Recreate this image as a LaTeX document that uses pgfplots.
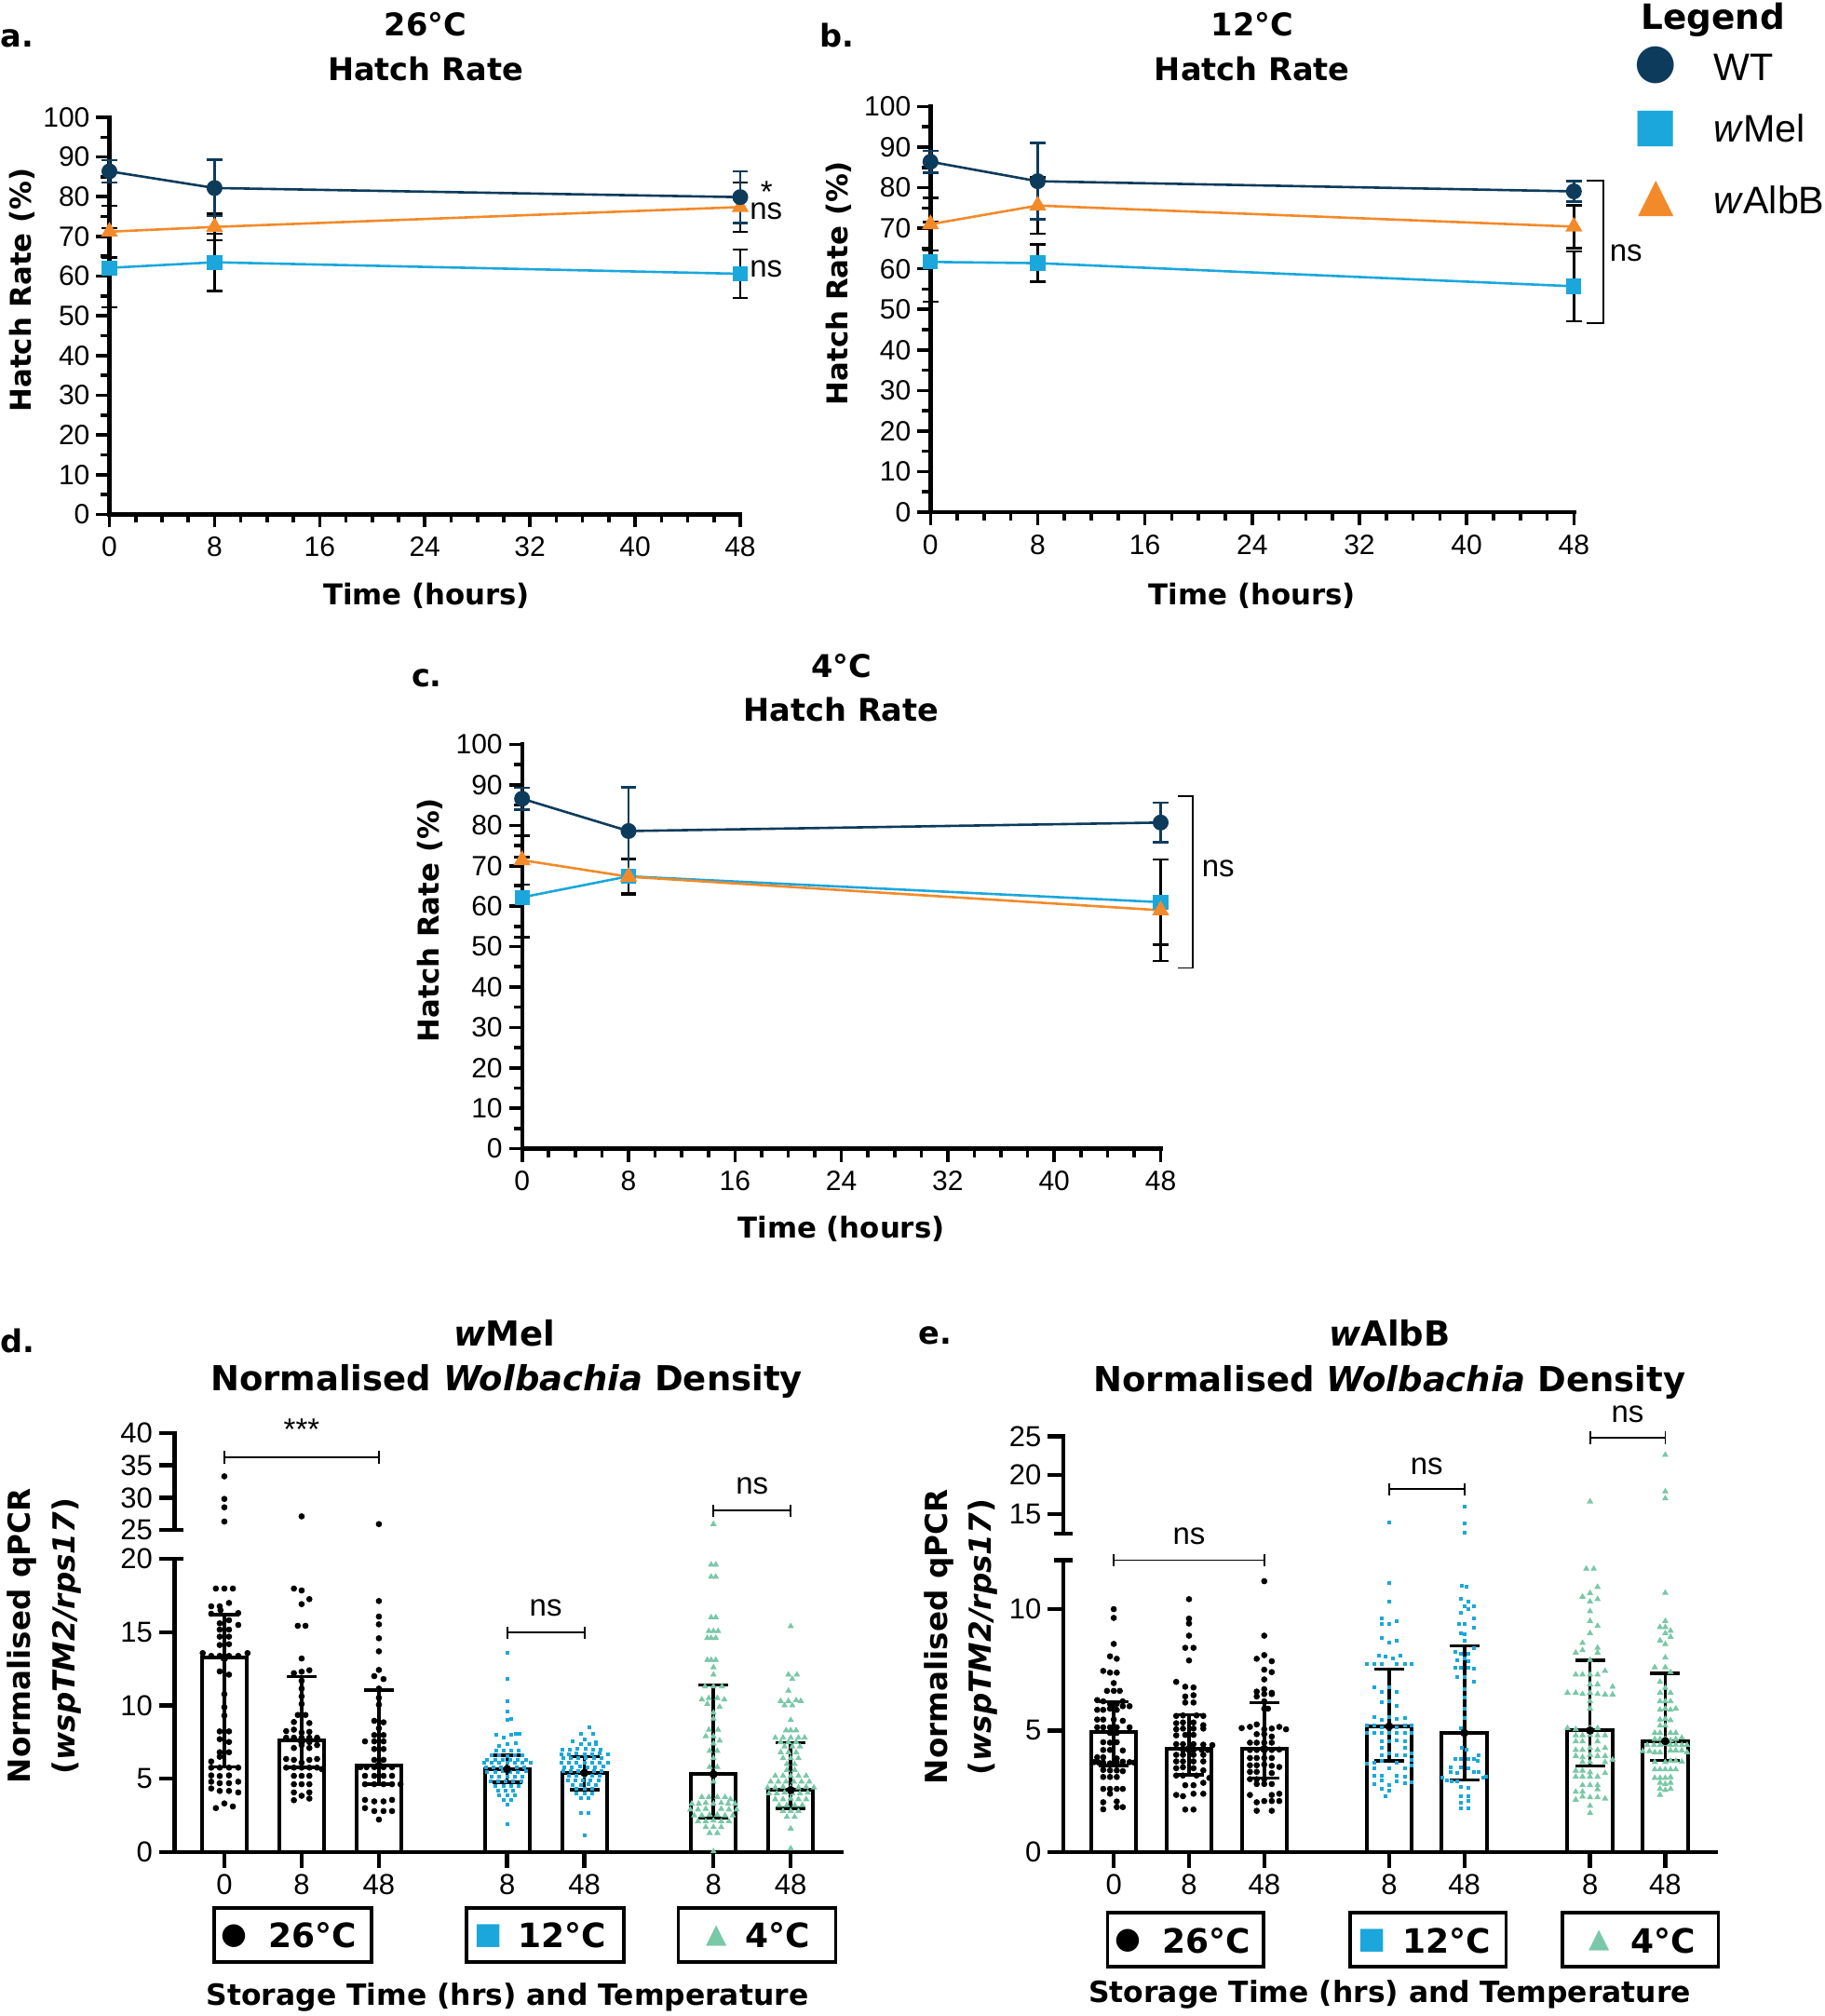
\documentclass[border=0pt]{standalone}
\usepackage{fontspec}
\setmainfont{Liberation Sans}
\newfontfamily\dvs{DejaVu Sans}
\usepackage{pgfplots}
\usepackage{pgfplotstable}
\pgfplotsset{compat=1.18}
\definecolor{navy}{HTML}{0D3B5C}
\definecolor{cyanb}{HTML}{1BA7DC}
\definecolor{orng}{HTML}{F28A2A}
\definecolor{mint}{HTML}{79C8A7}

\newcommand{\ttl}{\dvs\bfseries\fontsize{16.8}{18}\selectfont}
\newcommand{\lbl}{\dvs\bfseries\fontsize{15.4}{18}\selectfont}
\newcommand{\ttlB}{\dvs\bfseries\fontsize{18.5}{20}\selectfont}
\newcommand{\lblB}{\dvs\bfseries\fontsize{15.7}{18}\selectfont}
\newcommand{\nsf}{\fontsize{16.5}{16.5}\selectfont}

\tikzset{brk/.style={line width=0.9pt, black}}
\pgfplotsset{
  topax/.style={anchor=south west, scale only axis, axis lines=left,
    axis line style={line width=2.2pt,-,line cap=rect},
    xmin=0,xmax=48,ymin=0,ymax=100,
    xtick={0,8,...,48}, minor x tick num=3,
    ytick={0,10,...,100}, minor y tick num=1,
    tick align=outside, major tick length=7pt, minor tick length=4.5pt,
    major tick style={line width=1.8pt,black}, minor tick style={line width=1.8pt,black},
    tick label style={font=\fontsize{15}{15}\selectfont},
    xticklabel style={yshift=-1.5pt},
    /pgf/number format/assume math mode=true, clip=false},
  wt/.style={navy, line width=1.3pt, mark=*, mark size=3.6pt,
    error bars/.cd, y dir=both, y explicit,
    error bar style={navy,line width=1.2pt},
    error mark options={rotate=90,navy,line width=1.2pt,mark size=4.2pt}},
  wmel/.style={cyanb, line width=1.3pt, mark=square*, mark size=3.4pt,
    error bars/.cd, y dir=both, y explicit,
    error bar style={black,line width=1.2pt},
    error mark options={rotate=90,black,line width=1.2pt,mark size=4.2pt}},
  walb/.style={orng, line width=1.3pt, mark=triangle*, mark size=4pt,
    error bars/.cd, y dir=both, y explicit,
    error bar style={black,line width=1.2pt},
    error mark options={rotate=90,black,line width=1.2pt,mark size=4.2pt}},
  botax/.style={anchor=south west, scale only axis, clip=false,
    axis x line=bottom, axis y line=left, axis line style={line width=2.2pt,-,line cap=rect},
    tick align=outside, major tick length=8.3pt, major tick style={line width=2.2pt,black},
    tick label style={font=\fontsize{15.5}{15.5}\selectfont},
    /pgf/number format/assume math mode=true,
    xtick={0,1,2,3.66,4.66,6.33,7.33}, xticklabels={0,8,48,8,48,8,48}},
  upax/.style={anchor=south west, scale only axis, clip=false,
    axis x line=none, axis y line=left, axis line style={line width=2.2pt,-,line cap=rect},
    tick align=outside, major tick length=8.3pt, major tick style={line width=2.2pt,black},
    tick label style={font=\fontsize{15.5}{15.5}\selectfont},
    /pgf/number format/assume math mode=true, xtick=\empty},
  bars/.style={ybar, bar width=#1, bar shift=0pt, fill=white, draw=black, line width=2pt, forget plot},
  errs/.style={forget plot, only marks, mark=none, black,
    error bars/.cd, y dir=both, y explicit,
    error bar style={draw=black,line width=1.8pt},
    error mark options={rotate=90,draw=black,line width=1.8pt,mark size=8pt}},
  dots/.style={forget plot, only marks, mark=*, mark size=1.45pt, black},
  sqs/.style={forget plot, only marks, mark=square*, mark size=0.75pt, cyanb, mark options={draw=none,fill=cyanb}},
  tris/.style={forget plot, only marks, mark=triangle*, mark size=1.6pt, mint, mark options={draw=none,fill=mint}}
}

% ---------- hatch rate data ----------
\pgfplotstableread{
t v e
0 86.4 2.8
8 82.2 7.1
48 79.9 6.5
}\aWT
\pgfplotstableread{
t v e
0 71.2 6.5
8 72.4 3.3
48 77.4 6.2
}\aAlb
\pgfplotstableread{
t v e
0 62.1 10.0
8 63.5 7.2
48 60.6 6.1
}\aMel
\pgfplotstableread{
t v e
0 86.4 2.7
8 81.6 9.4
48 79.1 2.5
}\bWT
\pgfplotstableread{
t v e
0 71.0 6.5
8 75.6 6.9
48 70.4 5.3
}\bAlb
\pgfplotstableread{
t v e
0 61.7 9.8
8 61.4 4.6
48 55.7 8.6
}\bMel
\pgfplotstableread{
t v e
0 86.6 2.7
8 78.6 10.8
48 80.7 4.9
}\cWT
\pgfplotstableread{
t v e
0 71.4 6.0
8 67.3 4.4
48 59.0 12.5
}\cAlb
\pgfplotstableread{
t v e
0 62.2 9.9
8 67.4 4.2
48 61.0 10.5
}\cMel

% ---------- qPCR summary ----------
\pgfplotstableread{
x y ep em
0 13.25 2.95 7.45
1 7.6 4.36 1.84
2 5.9 5.13 1.27
3.66 5.65 0.95 0.89
4.66 5.4 1.1 1.13
6.33 5.31 6.09 2.98
7.33 4.23 3.22 1.23
}\dErr
\pgfplotstableread{
x y ep em
0 4.95 1.23 1.39
1 4.24 1.41 1.06
2 4.24 1.91 1.19
3.66 5.17 2.35 1.42
4.66 4.9 3.58 1.93
6.33 5.0 2.88 1.46
7.33 4.56 2.79 0.79
}\eErr

% ---------- d points ----------
\pgfplotstableread{
o v
-0.11 17.97
0 17.97
0.11 17.97
0.06 16.99
-0.17 16.76
-0.06 16.76
-0.17 16.25
0.18 16.3
-0.05 16.5
-0.06 15.6
0.06 15.81
0.18 15.49
-0.06 15.17
0.06 15.17
-0.06 14.69
0.06 14.69
-0.06 14.12
0.06 14.18
-0.28 13.57
-0.17 13.38
-0.06 13.38
0.06 13.38
0.18 13.38
0.30 13.57
-0.06 12.32
0.06 12.1
0 10.77
0 9.88
0 9.31
-0.06 8.23
0.06 8.23
-0.06 7.70
0.06 7.51
-0.06 6.81
0.06 6.81
-0.17 6.18
-0.06 6.5
-0.17 5.76
-0.06 5.76
0.06 5.76
0.18 5.76
-0.17 5.23
-0.06 5.19
0.06 5.23
-0.17 4.80
-0.06 4.7
0.06 4.7
0.18 4.8
-0.17 4.34
-0.06 4.17
0.06 4.17
0.18 4.07
-0.11 3.0
0 3.32
0.11 3.11
}\dTa
\pgfplotstableread{
o v
-0.1 17.97
0 17.84
0.1 17.25
0 16.91
-0.05 15.43
0.05 15.43
0 13.2
-0.1 12.2
0 12.3
0.1 12.4
0 11.68
0 11.15
0 10.62
0 10.1
-0.05 9.35
0.05 9.35
-0.1 8.87
0.1 8.8
-0.2 8.25
-0.1 8.35
0 8.15
0.1 8.2
-0.2 7.8
-0.1 7.8
0 7.8
0.1 7.8
0.2 7.8
0.1 7.5
-0.1 7.1
0 7.3
0.1 7.1
0.2 7.3
-0.2 6.35
-0.1 6.29
0 6.1
0.1 6.29
0.2 6.35
-0.2 5.76
-0.1 5.76
0 5.76
0.1 5.76
0.2 5.76
0.26 5.66
-0.1 5.2
0 5.2
0.1 5.2
-0.1 4.63
0 4.63
0.1 4.63
-0.1 4.07
0.1 4.07
-0.1 3.54
0 3.84
0.1 3.65
}\dTb
\pgfplotstableread{
o v
0 17.12
0 16.06
0 15.53
0 14.58
0 13.69
0 12.42
-0.06 12.0
0.06 11.8
0 11.15
0 10.52
0 10.05
-0.06 8.95
0.06 8.85
0 8.44
-0.06 7.98
0.06 7.98
-0.18 7.55
-0.06 7.55
0.06 7.55
-0.06 7.03
0.06 7.03
-0.06 6.29
0.06 6.29
-0.24 5.79
-0.16 5.79
-0.06 5.79
0.06 5.79
0.17 5.79
-0.18 5.2
-0.06 5.2
0.06 5.2
0.17 5.2
-0.18 4.63
-0.06 4.63
0.06 4.63
0.17 4.63
0.28 4.63
-0.18 3.56
-0.06 3.46
0.06 3.46
0.17 3.56
-0.18 3.0
-0.06 2.8
0.06 2.8
0.17 2.8
0 2.22
}\dTc
\pgfplotstableread{
o v
0 13.6
0 11.82
0 10.3
0 9.6
0 9.0
0.05 9.1
-0.14 8.0
-0.04 7.8
0.05 8.0
0.11 8.05
0.16 8.1
-0.1 7.24
0 7.38
0.11 7.43
-0.14 6.9
-0.05 6.9
0.05 6.95
0.15 6.9
-0.2 6.6
-0.1 6.6
0 6.55
0.1 6.6
0.2 6.6
-0.26 6.29
-0.16 6.29
-0.06 6.3
0.04 6.29
0.14 6.3
0.24 6.29
-0.3 6.08
-0.2 6.08
-0.1 6.1
0 6.08
0.1 6.08
0.2 6.1
0.3 6.08
-0.28 5.78
-0.18 5.78
-0.08 5.8
0.02 5.78
0.12 5.78
0.22 5.8
-0.26 5.46
-0.16 5.46
-0.06 5.5
0.04 5.46
0.14 5.46
0.24 5.5
-0.2 5.14
-0.1 5.14
0 5.16
0.1 5.14
0.2 5.14
-0.22 4.83
-0.12 4.83
-0.02 4.85
0.08 4.83
0.18 4.83
-0.15 4.51
-0.05 4.51
0.05 4.53
0.15 4.51
-0.12 4.19
-0.02 4.19
0.08 4.19
-0.1 3.9
0 3.85
0.1 3.9
-0.05 3.57
0.05 3.57
0 3.27
0 1.9
}\dMa
\pgfplotstableread{
o v
0.06 8.5
-0.05 8.1
0.11 8.05
0 7.7
0.15 7.5
-0.15 7.55
-0.05 7.4
0.06 7.4
0.15 7.35
-0.29 7.0
-0.19 7.0
-0.09 7.05
0.01 7.05
0.11 7.0
0.21 7.0
-0.3 6.7
-0.2 6.7
-0.1 6.72
0 6.7
0.1 6.7
0.2 6.72
0.3 6.7
-0.28 6.4
-0.18 6.4
-0.08 6.42
0.02 6.4
0.12 6.4
0.22 6.42
-0.3 6.1
-0.2 6.1
-0.1 6.12
0 6.1
0.1 6.1
0.2 6.12
0.3 6.1
-0.26 5.8
-0.16 5.8
-0.06 5.82
0.04 5.8
0.14 5.8
0.24 5.82
-0.28 5.5
-0.18 5.5
-0.08 5.52
0.02 5.5
0.12 5.5
0.22 5.52
-0.2 5.2
-0.1 5.2
0 5.22
0.1 5.2
0.2 5.2
-0.22 4.9
-0.12 4.9
-0.02 4.92
0.08 4.9
0.18 4.9
-0.15 4.6
-0.05 4.6
0.05 4.62
0.15 4.6
-0.1 4.3
0 4.3
0.1 4.3
-0.1 4.0
0 4.0
0.1 4.0
-0.05 3.7
0.05 3.7
-0.05 2.67
0.05 2.67
0 1.16
}\dMb
\pgfplotstableread{
o v
-0.03 19.6
0.03 19.6
-0.03 18.77
0.03 18.77
-0.03 16.0
0.03 16.0
-0.06 15.07
0 15.07
0.06 15.07
-0.08 14.6
-0.03 14.6
0.03 14.6
-0.08 13.1
-0.03 13.1
0.03 13.1
0 12.6
0 12.1
-0.11 11.3
0 11.3
0.11 11.3
-0.15 10.4
-0.06 10.5
0.05 10.5
0.14 10.4
-0.08 10.1
0.08 9.9
0 9.5
0 9.1
-0.06 8.34
0.06 8.34
-0.1 7.9
0 7.9
0.08 7.6
0 7.4
-0.05 6.9
0.05 6.9
0 6.4
-0.05 5.8
0.05 5.8
0 5.3
0 4.8
-0.15 3.75
-0.06 3.75
0.05 3.75
0.15 3.75
0.22 3.6
-0.28 3.3
-0.19 3.3
-0.1 3.35
0 3.3
0.1 3.35
0.19 3.3
0.28 3.3
-0.3 2.9
-0.2 2.9
-0.1 2.95
0.1 2.95
0.2 2.9
0.3 2.9
-0.25 2.5
-0.15 2.5
-0.05 2.55
0.05 2.55
0.15 2.5
0.25 2.5
-0.2 2.1
-0.1 2.1
0 2.15
0.1 2.1
0.2 2.1
-0.1 1.7
0 1.7
0.1 1.7
-0.05 1.3
0.05 1.3
0 0.05
}\dFa
\pgfplotstableread{
o v
0 15.4
-0.03 12.1
0.08 12.1
0.02 11.8
-0.03 11.0
-0.13 10.3
-0.03 10.3
0.07 10.35
0.13 10.3
-0.08 10.0
0.02 10.0
0 9.0
-0.06 8.3
0 8.3
0.07 8.3
-0.2 7.8
-0.1 7.8
0 7.8
0.1 7.8
0.18 7.8
-0.13 7.5
-0.03 7.5
0.07 7.5
-0.08 7.2
0.02 7.2
0.12 7.2
-0.13 6.8
-0.03 6.8
0.07 6.8
-0.1 6.4
0 6.4
0.1 6.4
-0.05 6.0
0.05 6.0
-0.05 5.6
0.05 5.6
-0.2 5.2
-0.1 5.2
0 5.2
0.1 5.2
0.2 5.2
-0.26 4.8
-0.16 4.8
-0.06 4.8
0.04 4.8
0.14 4.8
0.24 4.8
-0.3 4.4
-0.2 4.4
-0.1 4.45
0 4.4
0.1 4.4
0.2 4.45
0.3 4.4
-0.28 4.0
-0.18 4.0
-0.08 4.05
0.02 4.0
0.12 4.0
0.22 4.05
-0.2 3.6
-0.1 3.6
0 3.65
0.1 3.6
0.2 3.6
-0.15 3.2
-0.05 3.2
0.05 3.2
0.15 3.2
-0.1 2.8
0 2.8
0.1 2.8
-0.05 2.4
0.05 2.4
0 1.6
0 0.25
}\dFb

% ---------- e points ----------
\pgfplotstableread{
o v
0 9.99
0 9.63
0 8.56
-0.05 8.05
0.04 7.95
-0.14 7.45
-0.05 7.38
0.04 7.38
0 6.95
-0.09 6.63
0 6.63
0.08 6.63
-0.22 6.25
-0.14 6.2
-0.05 6.1
0.04 6.1
0.12 6.2
-0.22 5.85
-0.14 5.85
-0.05 5.9
0.04 5.85
0.12 6.0
0.21 6.0
-0.22 5.45
-0.14 5.45
0 5.45
0.12 5.4
-0.22 5.13
-0.14 5.13
-0.05 5.13
0.04 5.13
0.21 5.13
-0.05 4.9
0.04 4.9
-0.14 4.52
-0.05 4.5
0.04 4.52
-0.14 4.2
-0.05 4.2
0.12 4.18
-0.22 3.9
-0.14 3.9
0.04 3.85
-0.26 3.7
-0.2 3.68
-0.14 3.68
-0.05 3.65
0.04 3.68
0.12 3.72
0.21 3.7
0.27 3.68
-0.14 3.38
-0.05 3.36
0.04 3.36
0.12 3.33
-0.14 3.09
-0.05 3.09
0.04 3.09
-0.14 2.6
-0.05 2.6
0.04 2.6
0.12 2.6
-0.05 2.4
-0.14 2.05
0.04 2.08
-0.14 1.76
0.04 1.85
0.12 1.85
}\eTa
\pgfplotstableread{
o v
0 10.4
0 9.6
0 9.4
0 8.9
-0.05 8.4
0.06 8.4
0 7.88
-0.17 7.0
-0.05 6.8
0.06 6.77
-0.05 6.4
0.06 6.45
-0.05 6.15
0.06 6.15
-0.17 5.6
-0.08 5.62
0.1 5.62
0.19 5.6
-0.17 5.3
-0.08 5.33
0.06 5.33
0.19 5.22
-0.17 5.05
-0.08 5.08
0.06 5.08
0.19 5.08
-0.17 4.8
-0.05 4.82
0.06 4.82
-0.17 4.44
-0.08 4.44
0.06 4.44
0.19 4.42
0.31 4.4
-0.08 4.2
0.06 4.2
0.17 4.2
0.25 4.2
-0.17 4.0
-0.08 4.0
0.06 4.0
0.19 4.0
-0.17 3.73
-0.08 3.73
0.06 3.73
0.19 3.73
-0.17 3.45
-0.08 3.49
0.06 3.45
0.19 3.36
-0.17 3.15
-0.08 3.15
0.1 3.15
0.27 3.05
-0.05 2.75
0.06 2.75
0.19 2.85
-0.17 2.35
-0.08 2.3
0.06 2.4
0.19 2.4
-0.05 1.75
0.06 1.75
}\eTb
\pgfplotstableread{
o v
0 11.14
0 8.9
-0.1 7.95
0 8.1
0.1 7.85
0 7.5
0.1 7.4
0 7.1
-0.1 6.6
0 6.7
0.1 6.55
-0.1 6.4
0 6.5
0.1 6.5
0 6.2
0 5.9
0.05 5.9
-0.3 5.1
-0.19 5.15
-0.1 5.25
0 5.05
0.1 5.08
0.2 5.15
0.29 5.05
-0.1 4.85
0 4.85
0.1 4.75
-0.19 4.5
-0.1 4.5
0 4.5
0.1 4.5
-0.19 4.2
-0.1 4.2
0 4.2
0.1 4.2
0.2 4.22
-0.19 3.87
-0.1 3.87
0 3.87
0.1 3.87
-0.19 3.57
-0.1 3.57
0 3.6
0.1 3.55
0.2 3.5
-0.19 3.3
-0.1 3.3
0.1 3.25
-0.19 3.0
-0.1 3.0
0 3.0
-0.1 2.8
0 2.8
0.1 2.8
-0.19 2.35
0.1 2.35
0.2 2.4
-0.1 2.05
0 2.1
0.1 2.1
0.2 2.1
-0.1 1.7
0.1 1.7
}\eTc
\pgfplotstableread{
o v
0 11.07
0 10.3
-0.1 9.6
-0.1 9.4
0 9.4
0.1 9.5
-0.1 8.8
0 8.6
0.1 8.7
-0.14 8.1
-0.05 8.05
0.05 7.95
0.15 8.1
-0.3 7.75
-0.2 7.75
-0.1 7.75
0.1 7.75
0.21 7.75
0.3 7.75
-0.2 6.8
-0.1 6.6
0 6.8
0.1 6.6
-0.1 6.15
0 6.2
0.1 6.0
-0.2 5.55
-0.1 5.45
0 5.55
0.1 5.47
0.21 5.5
-0.3 5.2
-0.2 5.2
-0.1 5.15
0 5.2
0.1 5.15
0.21 5.2
0.3 5.2
-0.3 4.9
-0.2 4.9
-0.1 4.9
0 4.9
0.1 4.9
0.21 4.9
0.3 4.9
-0.1 4.55
0 4.55
0.1 4.6
0.21 4.55
-0.1 4.3
0.21 4.3
-0.1 4.0
0 4.05
0.1 4.0
0.21 4.0
0.3 4.05
-0.3 3.63
-0.2 3.67
-0.1 3.75
0.1 3.67
0.3 3.8
-0.2 3.45
0 3.45
0.21 3.45
0.3 3.55
-0.2 3.15
-0.1 3.15
0.1 3.15
0.21 3.1
-0.2 2.8
-0.1 2.95
0 2.75
0.1 2.9
0.21 2.85
0.3 2.88
-0.1 2.6
0 2.52
-0.05 2.3
}\eMa
\pgfplotstableread{
o v
-0.03 10.96
0.03 10.9
-0.05 10.4
0.05 10.3
0 10.1
0.12 10.1
-0.05 9.85
0.05 10.0
-0.07 9.4
0 9.37
0.12 9.6
0.12 9.25
-0.05 9.0
0 8.95
0 8.7
-0.12 8.25
-0.05 8.15
0.05 8.15
0.12 8.4
-0.1 7.9
0 7.95
0.05 7.85
-0.12 7.6
-0.05 7.6
0.05 7.6
0.12 7.55
-0.1 7.2
0 7.2
0.12 7.0
0 6.7
0 6.35
0 5.9
0 5.5
-0.05 5.1
-0.03 4.3
0.03 4.2
-0.12 3.85
-0.05 3.85
0.05 3.85
0.12 3.85
0.19 4.0
-0.18 3.5
-0.05 3.5
0.05 3.45
0.17 3.75
-0.18 3.3
-0.1 3.25
0.12 3.3
0.19 3.3
-0.29 3.05
-0.23 2.95
-0.17 2.9
-0.1 2.9
0.25 3.05
0.29 3.1
-0.05 2.7
0.05 2.65
-0.05 2.3
0.05 2.3
-0.05 2.05
0.05 2.1
-0.05 1.8
0.05 1.8
}\eMb
\pgfplotstableread{
o v
-0.05 11.65
0.05 11.65
0.1 10.9
-0.1 10.5
0 10.65
0.1 10.4
0 10.3
0 9.9
0 9.5
0.1 9.3
0 9.0
-0.1 8.6
0.1 8.4
-0.19 8.2
-0.1 8.3
0.1 8.2
0 7.9
-0.19 7.3
-0.1 7.3
0 7.3
0.1 7.3
0.2 7.45
0 6.9
0.1 6.9
-0.3 6.55
-0.19 6.55
-0.1 6.5
0 6.55
0.1 6.5
0.2 6.48
0.3 6.48
0.3 6.8
0 6.2
0 5.9
-0.3 5.1
-0.19 5.05
0 5.1
0.1 5.1
-0.19 4.8
-0.1 4.8
0 4.82
0.1 4.8
0.2 4.8
-0.19 4.55
-0.1 4.55
0.1 4.55
-0.19 4.2
-0.1 4.2
0 4.28
0.1 4.2
0.2 4.28
-0.19 3.95
-0.1 3.9
0 4.0
0.1 3.95
0.2 3.95
0.3 3.8
-0.1 3.7
0 3.7
0.2 3.7
-0.19 3.35
-0.1 3.35
0 3.28
0.2 3.25
-0.19 3.1
-0.1 3.1
0 3.1
0.1 3.1
-0.1 2.75
0 2.75
0.1 2.75
-0.19 2.48
-0.1 2.48
0.1 2.58
-0.19 2.15
-0.1 2.28
0 2.25
0.1 2.25
0.2 2.2
0 1.9
0 1.6
}\eFa
\pgfplotstableread{
o v
0 10.66
0 9.5
-0.07 9.25
0 9.25
0.07 9.1
0 9.0
0.07 8.85
-0.07 8.7
0 8.55
0 8.0
-0.14 7.6
0 7.6
0.07 7.4
-0.07 7.0
0 6.75
-0.07 6.55
0.07 6.55
-0.07 6.2
0 6.2
0.07 6.2
-0.07 5.85
0 5.9
0.07 5.85
0.14 5.9
-0.07 5.45
0 5.48
0.07 5.42
-0.07 5.2
0 5.2
-0.14 4.9
-0.07 4.9
0.07 4.9
0.14 4.9
-0.14 4.65
-0.07 4.65
0 4.65
0.07 4.6
0.14 4.65
0.22 4.7
-0.24 4.4
-0.15 4.4
-0.07 4.4
0 4.45
0.07 4.4
0.14 4.42
0.22 4.4
0.29 4.4
-0.3 4.15
-0.21 4.15
-0.14 4.1
-0.07 4.1
0.07 4.18
0.14 4.18
0.22 4.18
0.29 4.1
-0.14 3.7
0 3.7
0.07 3.75
0.14 3.75
0.22 3.72
-0.14 3.4
-0.07 3.4
0 3.4
0.07 3.4
0.14 3.4
-0.14 3.05
-0.07 3.05
0 3.05
0.07 3.08
-0.07 2.85
0 2.8
0.07 2.85
-0.07 2.6
0 2.55
0.07 2.6
-0.07 2.35
}\eFb

\begin{document}
\begin{tikzpicture}[x=1pt,y=1pt]
\useasboundingbox (0,0) rectangle (980,1082.5);

% ================= panel a =================
\begin{axis}[topax, at={(58.75pt,806.25pt)}, width=338.75pt, height=213.25pt]
\addplot[wmel] table[x=t,y=v,y error=e]{\aMel};
\addplot[walb] table[x=t,y=v,y error=e]{\aAlb};
\addplot[wt] table[x=t,y=v,y error=e]{\aWT};
\node[anchor=base, inner sep=0, font=\nsf] at (axis cs:50.0,78.6) {*};
\node[anchor=base west, inner sep=0, font=\nsf] at (axis cs:48.7,74.3) {ns};
\node[anchor=base west, inner sep=0, font=\nsf] at (axis cs:48.7,59.8) {ns};
\end{axis}
\node[anchor=base west, inner sep=0, font=\ttl] at (0,1057.25) {a.};
\node[anchor=base, inner sep=0, font=\ttl] at (228.5,1063) {26°C};
\node[anchor=base, inner sep=0, font=\ttl] at (228.5,1039.3) {Hatch Rate};
\node[anchor=base, inner sep=0, font=\lbl] at (229,757.5) {Time (hours)};
\node[rotate=90, inner sep=0, font=\lbl] at (12,926.75) {Hatch Rate (\%)};

% ================= panel b =================
\begin{axis}[topax, at={(499.65pt,807.5pt)}, width=345.5pt, height=217.75pt]
\addplot[wmel] table[x=t,y=v,y error=e]{\bMel};
\addplot[walb] table[x=t,y=v,y error=e]{\bAlb};
\addplot[wt] table[x=t,y=v,y error=e]{\bWT};
\draw[line width=0.8pt] (axis cs:48.95,81.8) -- (axis cs:50.2,81.8) -- (axis cs:50.2,46.6) -- (axis cs:48.95,46.6);
\node[anchor=base west, inner sep=0, font=\nsf] at (axis cs:50.65,61.8) {ns};
\end{axis}
\node[anchor=base west, inner sep=0, font=\ttl] at (440.2,1057.25) {b.};
\node[anchor=base, inner sep=0, font=\ttl] at (672.4,1063) {12°C};
\node[anchor=base, inner sep=0, font=\ttl] at (672.4,1039.3) {Hatch Rate};
\node[anchor=base, inner sep=0, font=\lbl] at (672.4,757.5) {Time (hours)};
\node[rotate=90, inner sep=0, font=\lbl] at (450.5,930.5) {Hatch Rate (\%)};

% legend
\node[anchor=base, inner sep=0, font=\dvs\bfseries\fontsize{18.7}{20}\selectfont] at (920,1066.5) {Legend};
\node[inner sep=0, text=navy, font=\dvs\fontsize{26}{26}\selectfont] at (889.3,1047.35) {●};
\node[inner sep=0, text=cyanb, font=\dvs\fontsize{25}{25}\selectfont] at (889.3,1013.05) {■};
\node[inner sep=0, text=orng, font=\dvs\fontsize{25}{25}\selectfont] at (889.3,975.5) {▲};
\node[anchor=base west, inner sep=0, font=\fontsize{20.6}{21}\selectfont] at (920,1039.35) {WT};
\node[anchor=base west, inner sep=0, font=\fontsize{20.6}{21}\selectfont] at (920,1006.3) {\textit{w}Mel};
\node[anchor=base west, inner sep=0, font=\fontsize{20.6}{21}\selectfont] at (920,967.8) {\textit{w}AlbB};

% ================= panel c =================
\begin{axis}[topax, at={(280.35pt,465.7pt)}, width=342.9pt, height=217pt]
\addplot[wmel] table[x=t,y=v,y error=e]{\cMel};
\addplot[walb] table[x=t,y=v,y error=e]{\cAlb};
\addplot[wt] table[x=t,y=v,y error=e]{\cWT};
\draw[line width=0.8pt] (axis cs:49.3,87.3) -- (axis cs:50.4,87.3) -- (axis cs:50.4,44.75) -- (axis cs:49.3,44.75);
\node[anchor=base west, inner sep=0, font=\nsf] at (axis cs:51.07,67.3) {ns};
\end{axis}
\node[anchor=base west, inner sep=0, font=\ttl] at (220.8,713.5) {c.};
\node[anchor=base, inner sep=0, font=\ttl] at (451.8,718.5) {4°C};
\node[anchor=base, inner sep=0, font=\ttl] at (451.8,695) {Hatch Rate};
\node[anchor=base, inner sep=0, font=\lbl] at (451.8,417.7) {Time (hours)};
\node[rotate=90, inner sep=0, font=\lbl] at (230.75,588.5) {Hatch Rate (\%)};

% ================= panel d =================
\begin{axis}[botax, at={(93.8pt,88pt)}, width=358.2pt, height=157.5pt,
  xmin=-0.643, xmax=7.99, ymin=0, ymax=20, ytick={0,5,10,15,20}]
\addplot[bars=0.58] coordinates {(0,13.25) (1,7.6) (2,5.9) (3.66,5.65) (4.66,5.4) (6.33,5.31) (7.33,4.23)};
\addplot[dots] table[x expr=\thisrow{o}+0, y=v]{\dTa};
\addplot[dots] table[x expr=\thisrow{o}+1, y=v]{\dTb};
\addplot[dots] table[x expr=\thisrow{o}+2, y=v]{\dTc};
\addplot[sqs] table[x expr=\thisrow{o}+3.66, y=v]{\dMa};
\addplot[sqs] table[x expr=\thisrow{o}+4.66, y=v]{\dMb};
\addplot[tris] table[x expr=\thisrow{o}+6.33, y=v]{\dFa};
\addplot[tris] table[x expr=\thisrow{o}+7.33, y=v]{\dFb};
\addplot[errs] table[x=x,y=y,y error plus=ep,y error minus=em]{\dErr};
\draw[line width=2.2pt] ([xshift=-4.5pt]rel axis cs:0,1) -- ([xshift=4.5pt]rel axis cs:0,1);
\draw[brk] (axis cs:3.66,14.96) -- (axis cs:4.66,14.96);
\draw[brk] ([yshift=-3.3pt]axis cs:3.66,14.96) -- ([yshift=3.3pt]axis cs:3.66,14.96);
\draw[brk] ([yshift=-3.3pt]axis cs:4.66,14.96) -- ([yshift=3.3pt]axis cs:4.66,14.96);
\node[anchor=base, inner sep=0, font=\nsf] at (axis cs:4.16,16.1) {ns};
\end{axis}
\begin{axis}[upax, at={(93.8pt,261pt)}, width=358.2pt, height=52pt,
  xmin=-0.643, xmax=7.99, ymin=25, ymax=40, ytick={25,30,35,40}]
\addplot[dots] coordinates {(0,33.3) (0,29.8) (0,28.5) (0,26.3) (1,27.1) (2,25.9)};
\addplot[tris] coordinates {(6.33,25.9)};
\draw[line width=2.2pt] ([xshift=-4.5pt]rel axis cs:0,0) -- ([xshift=4.5pt]rel axis cs:0,0);
\draw[brk] (axis cs:0,36.26) -- (axis cs:2,36.26);
\draw[brk] ([yshift=-3.3pt]axis cs:0,36.26) -- ([yshift=3.3pt]axis cs:0,36.26);
\draw[brk] ([yshift=-3.3pt]axis cs:2,36.26) -- ([yshift=3.3pt]axis cs:2,36.26);
\node[anchor=base, inner sep=0, font=\nsf] at (axis cs:1,38.85) {***};
\draw[brk] (axis cs:6.33,28.0) -- (axis cs:7.33,28.0);
\draw[brk] ([yshift=-3.3pt]axis cs:6.33,28.0) -- ([yshift=3.3pt]axis cs:6.33,28.0);
\draw[brk] ([yshift=-3.3pt]axis cs:7.33,28.0) -- ([yshift=3.3pt]axis cs:7.33,28.0);
\node[anchor=base, inner sep=0, font=\nsf] at (axis cs:6.83,30.5) {ns};
\end{axis}
\node[anchor=base west, inner sep=0, font=\ttl] at (0,356) {d.};
\node[anchor=base, inner sep=0, font=\ttlB] at (271,359.5) {\textit{w}Mel};
\node[anchor=base, inner sep=0, font=\ttlB] at (272,335.7) {Normalised \textit{Wolbachia} Density};
\node[rotate=90, align=center, inner sep=0, font=\dvs\bfseries\fontsize{16.3}{23.75}\selectfont] at (23.75,204) {Normalised qPCR\\(\textit{wspTM2/rps17})};
\node[anchor=base, inner sep=0, font=\lblB] at (272.5,5.5) {Storage Time (hrs) and Temperature};
\node[draw, line width=1.9pt, minimum width=84.5pt, minimum height=29pt, inner sep=0] at (157.25,43.5) {};
\node[draw, line width=1.9pt, minimum width=84.5pt, minimum height=29pt, inner sep=0] at (292.75,43.5) {};
\node[draw, line width=1.9pt, minimum width=84.5pt, minimum height=29pt, inner sep=0] at (406.5,43.5) {};
\node[inner sep=0, font=\dvs\fontsize{16}{16}\selectfont] at (125.9,43) {●};
\node[inner sep=0, text=cyanb, font=\dvs\fontsize{16}{16}\selectfont] at (262.5,43) {■};
\node[inner sep=0, text=mint, font=\dvs\fontsize{14.5}{14.5}\selectfont] at (385,43) {▲};
\node[anchor=base, inner sep=0, font=\dvs\bfseries\fontsize{18}{18}\selectfont] at (168,36.5) {26°C};
\node[anchor=base, inner sep=0, font=\dvs\bfseries\fontsize{18}{18}\selectfont] at (302,36.5) {12°C};
\node[anchor=base, inner sep=0, font=\dvs\bfseries\fontsize{18}{18}\selectfont] at (417.5,36.5) {4°C};

% ================= panel e =================
\begin{axis}[botax, at={(571pt,88pt)}, width=350.3pt, height=156.7pt,
  xmin=-0.67, xmax=8.0, ymin=0, ymax=12, ytick={0,5,10}]
\addplot[bars=0.6] coordinates {(0,4.95) (1,4.24) (2,4.24) (3.66,5.17) (4.66,4.9) (6.33,5.0) (7.33,4.56)};
\addplot[dots] table[x expr=\thisrow{o}+0, y=v]{\eTa};
\addplot[dots] table[x expr=\thisrow{o}+1, y=v]{\eTb};
\addplot[dots] table[x expr=\thisrow{o}+2, y=v]{\eTc};
\addplot[sqs] table[x expr=\thisrow{o}+3.66, y=v]{\eMa};
\addplot[sqs] table[x expr=\thisrow{o}+4.66, y=v]{\eMb};
\addplot[tris] table[x expr=\thisrow{o}+6.33, y=v]{\eFa};
\addplot[tris] table[x expr=\thisrow{o}+7.33, y=v]{\eFb};
\addplot[errs] table[x=x,y=y,y error plus=ep,y error minus=em]{\eErr};
\draw[line width=2.2pt] ([xshift=-4.8pt]rel axis cs:0,1) -- ([xshift=4.8pt]rel axis cs:0,1);
\draw[brk] (axis cs:0,12) -- (axis cs:2,12);
\draw[brk] ([yshift=-3.3pt]axis cs:0,12) -- ([yshift=3.3pt]axis cs:0,12);
\draw[brk] ([yshift=-3.3pt]axis cs:2,12) -- ([yshift=3.3pt]axis cs:2,12);
\node[anchor=base, inner sep=0, font=\nsf] at (axis cs:1,12.66) {ns};
\end{axis}
\begin{axis}[upax, at={(571pt,259.1pt)}, width=350.3pt, height=52.2pt,
  xmin=-0.67, xmax=8.0, ymin=12.5, ymax=25, ytick={15,20,25}]
\addplot[sqs] coordinates {(3.66,13.9) (4.66,15.9) (4.66,13.8) (4.66,12.6)};
\addplot[tris] coordinates {(6.33,16.6) (7.33,22.6) (7.33,17.9) (7.33,17.0)};
\draw[line width=2.2pt] ([xshift=-4.8pt]rel axis cs:0,0) -- ([xshift=4.8pt]rel axis cs:0,0);
\draw[brk] (axis cs:3.66,18.2) -- (axis cs:4.66,18.2);
\draw[brk] ([yshift=-3.3pt]axis cs:3.66,18.2) -- ([yshift=3.3pt]axis cs:3.66,18.2);
\draw[brk] ([yshift=-3.3pt]axis cs:4.66,18.2) -- ([yshift=3.3pt]axis cs:4.66,18.2);
\node[anchor=base, inner sep=0, font=\nsf] at (axis cs:4.16,20.1) {ns};
\draw[brk] (axis cs:6.33,24.8) -- (axis cs:7.33,24.8);
\draw[brk] ([yshift=-3.3pt]axis cs:6.33,24.8) -- ([yshift=3.3pt]axis cs:6.33,24.8);
\draw[brk] ([yshift=-3.3pt]axis cs:7.33,24.8) -- ([yshift=3.3pt]axis cs:7.33,24.8);
\node[anchor=base, inner sep=0, font=\nsf] at (axis cs:6.83,26.75) {ns};
\end{axis}
\node[anchor=base west, inner sep=0, font=\ttl] at (493,360.5) {e.};
\node[anchor=base, inner sep=0, font=\ttlB] at (746.25,359.5) {\textit{w}AlbB};
\node[anchor=base, inner sep=0, font=\ttlB] at (746.25,335) {Normalised \textit{Wolbachia} Density};
\node[rotate=90, align=center, inner sep=0, font=\dvs\bfseries\fontsize{16.3}{23.75}\selectfont] at (515.9,203.5) {Normalised qPCR\\(\textit{wspTM2/rps17})};
\node[anchor=base, inner sep=0, font=\lblB] at (746.25,7) {Storage Time (hrs) and Temperature};
\node[draw, line width=1.9pt, minimum width=83.75pt, minimum height=29pt, inner sep=0] at (636.6,41) {};
\node[draw, line width=1.9pt, minimum width=83.75pt, minimum height=29pt, inner sep=0] at (766.9,41) {};
\node[draw, line width=1.9pt, minimum width=83.75pt, minimum height=29pt, inner sep=0] at (880.9,41) {};
\node[inner sep=0, font=\dvs\fontsize{16}{16}\selectfont] at (605.5,40.5) {●};
\node[inner sep=0, text=cyanb, font=\dvs\fontsize{16}{16}\selectfont] at (736.9,40.5) {■};
\node[inner sep=0, text=mint, font=\dvs\fontsize{14.5}{14.5}\selectfont] at (858.75,40.5) {▲};
\node[anchor=base, inner sep=0, font=\dvs\bfseries\fontsize{18}{18}\selectfont] at (647.8,33.7) {26°C};
\node[anchor=base, inner sep=0, font=\dvs\bfseries\fontsize{18}{18}\selectfont] at (776.9,33.7) {12°C};
\node[anchor=base, inner sep=0, font=\dvs\bfseries\fontsize{18}{18}\selectfont] at (893,33.7) {4°C};
\end{tikzpicture}
\end{document}
